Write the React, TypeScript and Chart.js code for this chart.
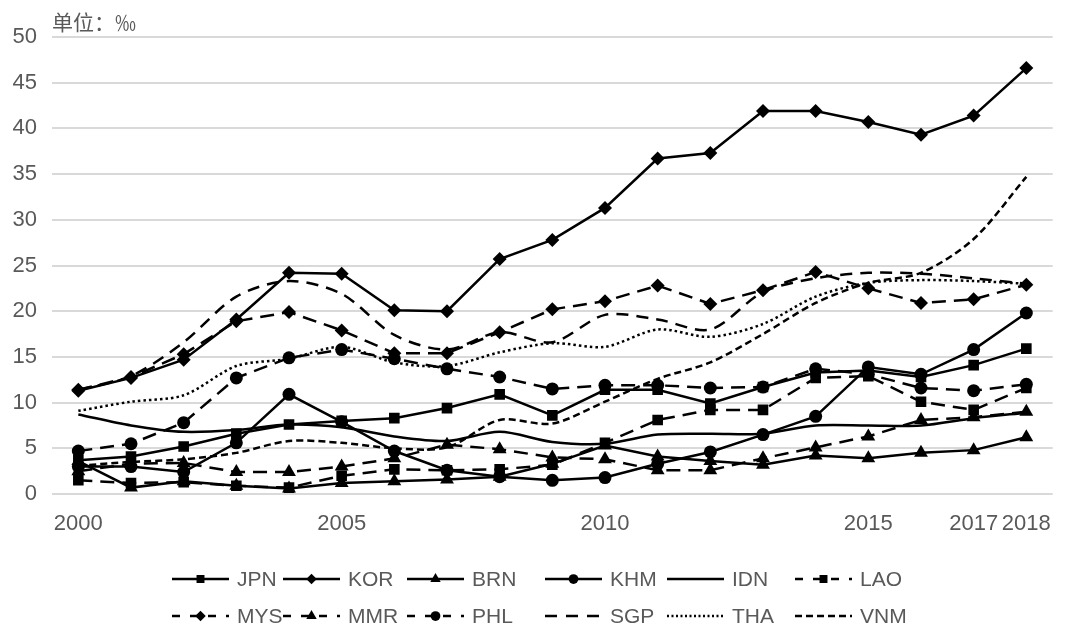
import React, { useEffect, useRef } from "react";
import { Chart, registerables } from "chart.js";

Chart.register(...registerables);

const years = ["2000","2001","2002","2003","2004","2005","2006","2007","2008","2009","2010","2011","2012","2013","2014","2015","2016","2017","2018"];
const shownYears = ["2000","2005","2010","2015","2017","2018"];
const unitLabel = "单位：‰";

const JPN = [3.7, 4.1, 5.2, 6.6, 7.6, 8.0, 8.3, 9.4, 10.9, 8.6, 11.4, 11.4, 9.9, 11.7, 13.3, 13.5, 12.8, 14.1, 15.9];
const KOR = [11.3, 12.7, 14.7, 19.1, 24.2, 24.1, 20.1, 20.0, 25.7, 27.8, 31.3, 36.7, 37.3, 41.9, 41.9, 40.7, 39.3, 41.4, 46.6];
const BRN = [3.6, 0.7, 1.4, 0.9, 0.6, 1.2, 1.4, 1.6, 1.9, 3.3, 5.3, 4.1, 3.6, 3.2, 4.2, 3.9, 4.5, 4.8, 6.2];
const KHM = [3.0, 3.0, 2.4, 5.6, 10.9, 7.9, 4.7, 2.6, 1.9, 1.5, 1.8, 3.3, 4.6, 6.5, 8.5, 13.9, 13.1, 15.8, 19.8];
const IDN = [8.7, 7.5, 6.8, 7.0, 7.6, 7.3, 6.3, 5.8, 6.8, 5.7, 5.5, 6.5, 6.6, 6.6, 7.5, 7.5, 7.5, 8.3, 8.9];
const LAO = [1.5, 1.2, 1.3, 0.9, 0.7, 2.0, 2.7, 2.6, 2.7, 3.2, 5.6, 8.1, 9.2, 9.2, 12.7, 12.9, 10.1, 9.2, 11.6];
const MYS = [11.4, 12.8, 15.3, 18.9, 19.9, 17.9, 15.4, 15.4, 17.7, 20.2, 21.1, 22.8, 20.8, 22.3, 24.3, 22.5, 20.9, 21.3, 22.9];
const MMR = [2.5, 3.3, 3.4, 2.4, 2.4, 3.0, 3.9, 5.4, 4.9, 4.0, 3.8, 2.6, 2.6, 3.9, 5.1, 6.3, 8.1, 8.4, 9.0];
const PHL = [4.7, 5.5, 7.8, 12.7, 14.9, 15.8, 14.8, 13.7, 12.8, 11.5, 11.9, 11.9, 11.6, 11.7, 13.7, 13.1, 11.6, 11.3, 12.0];
const SGP = [11.4, 12.9, 16.6, 21.6, 23.3, 21.9, 17.4, 15.8, 17.7, 16.6, 19.6, 19.1, 18.0, 22.1, 23.6, 24.2, 24.1, 23.6, 23.0];
const THA = [9.1, 10.1, 10.8, 14.0, 14.8, 16.1, 14.4, 14.0, 15.5, 16.5, 16.1, 18.0, 17.2, 18.6, 21.6, 23.1, 23.4, 23.3, 23.0];
const VNM = [3.1, 3.5, 3.8, 4.5, 5.8, 5.6, 5.0, 5.1, 8.1, 7.7, 10.1, 12.6, 14.4, 17.5, 20.9, 23.1, 24.2, 27.9, 34.7];

const LONG_DASH = [14, 8];
const SHORT_DASH = [7, 4];
const DOTS = [2.5, 3];

type S = { label: string; data: number[]; dash: number[]; marker: string | null; r: number; smooth: boolean };

const series: S[] = [
  { label: "JPN", data: JPN, dash: [], marker: "rect", r: 7.5, smooth: false },
  { label: "KOR", data: KOR, dash: [], marker: "rectRot", r: 7, smooth: false },
  { label: "BRN", data: BRN, dash: [], marker: "triangle", r: 8, smooth: false },
  { label: "KHM", data: KHM, dash: [], marker: "circle", r: 6.5, smooth: false },
  { label: "IDN", data: IDN, dash: [], marker: null, r: 0, smooth: true },
  { label: "LAO", data: LAO, dash: LONG_DASH, marker: "rect", r: 7.5, smooth: false },
  { label: "MYS", data: MYS, dash: LONG_DASH, marker: "rectRot", r: 7, smooth: false },
  { label: "MMR", data: MMR, dash: LONG_DASH, marker: "triangle", r: 8, smooth: false },
  { label: "PHL", data: PHL, dash: LONG_DASH, marker: "circle", r: 6.5, smooth: false },
  { label: "SGP", data: SGP, dash: [12, 8], marker: null, r: 0, smooth: true },
  { label: "THA", data: THA, dash: DOTS, marker: null, r: 0, smooth: true },
  { label: "VNM", data: VNM, dash: SHORT_DASH, marker: null, r: 0, smooth: true },
];

const GRAY = "#595959";
const FONT = "'Liberation Sans', Arial, sans-serif";

function drawMarker(ctx: CanvasRenderingContext2D, style: string, x: number, y: number, r: number) {
  ctx.beginPath();
  if (style === "rect") {
    const s = Math.SQRT1_2 * r;
    ctx.rect(x - s, y - s, 2 * s, 2 * s);
  } else if (style === "rectRot") {
    ctx.moveTo(x, y - r);
    ctx.lineTo(x + r, y);
    ctx.lineTo(x, y + r);
    ctx.lineTo(x - r, y);
    ctx.closePath();
  } else if (style === "triangle") {
    let a = 0;
    ctx.moveTo(x + Math.sin(a) * r, y - Math.cos(a) * r);
    a += (2 * Math.PI) / 3;
    ctx.lineTo(x + Math.sin(a) * r, y - Math.cos(a) * r);
    a += (2 * Math.PI) / 3;
    ctx.lineTo(x + Math.sin(a) * r, y - Math.cos(a) * r);
    ctx.closePath();
  } else if (style === "circle") {
    ctx.arc(x, y, r, 0, Math.PI * 2);
  }
  ctx.fill();
}

const legendCols = [172, 283, 407, 545, 667, 795];
const legendRows = [579, 616];

const annotPlugin = {
  id: "annot",
  afterDraw(chart: any) {
    const ctx: CanvasRenderingContext2D = chart.ctx;
    ctx.save();
    ctx.fillStyle = GRAY;
    ctx.textBaseline = "middle";
    ctx.font = "21px 'Noto Sans CJK SC', sans-serif";
    ctx.fillText(unitLabel, chart.chartArea.left, 22);

    ctx.font = "21px " + FONT;
    series.forEach((s, i) => {
      const x0 = legendCols[i % 6];
      const y = legendRows[Math.floor(i / 6)];
      const len = 57;
      ctx.strokeStyle = "#000";
      ctx.lineWidth = 2.5;
      ctx.setLineDash(s.dash.length ? (s.dash === DOTS ? [2, 2.5] : s.dash === SHORT_DASH ? [7, 4] : s.marker ? [8, 10] : [12, 9]) : []);
      ctx.beginPath();
      ctx.moveTo(x0, y);
      ctx.lineTo(x0 + len, y);
      ctx.stroke();
      ctx.setLineDash([]);
      if (s.marker) {
        ctx.fillStyle = "#000";
        drawMarker(ctx, s.marker, x0 + len / 2, y, s.r * 0.75);
      }
      ctx.fillStyle = GRAY;
      ctx.fillText(s.label, x0 + 65, y + 1);
    });
    ctx.restore();
  },
};

export default function App() {
  const ref = useRef<HTMLCanvasElement | null>(null);

  useEffect(() => {
    if (!ref.current) return;
    const chart = new Chart(ref.current, {
      type: "line",
      data: {
        labels: years,
        datasets: series.map((s) => ({
          label: s.label,
          data: s.data,
          borderColor: "#000",
          backgroundColor: "#000",
          borderWidth: 2.5,
          borderDash: s.dash,
          pointStyle: (s.marker || "circle") as any,
          pointRadius: s.marker ? s.r : 0,
          pointHoverRadius: s.marker ? s.r : 0,
          pointBackgroundColor: "#000",
          pointBorderColor: "#000",
          pointBorderWidth: 0,
          tension: s.smooth ? 0.3 : 0,
          fill: false,
        })),
      },
      options: {
        animation: false,
        responsive: false,
        maintainAspectRatio: false,
        layout: { padding: { top: 37, right: 0, bottom: 0, left: 0 } },
        plugins: {
          legend: { display: false },
          tooltip: { enabled: false },
          title: { display: false },
        },
        scales: {
          x: {
            type: "category",
            offset: true,
            grid: { display: false, drawTicks: false, tickLength: 0 },
            border: { display: false },
            ticks: {
              autoSkip: false,
              maxRotation: 0,
              minRotation: 0,
              padding: 17,
              color: GRAY,
              font: { family: FONT, size: 22 },
              callback: (_v: any, i: number) => (shownYears.includes(years[i]) ? years[i] : ""),
            },
            afterFit: (s: any) => {
              s.height = 132;
            },
          },
          y: {
            min: 0,
            max: 50,
            grid: { color: "#d9d9d9", lineWidth: 2, drawTicks: false, tickLength: 0 },
            border: { display: false },
            ticks: {
              stepSize: 5,
              padding: 15,
              color: GRAY,
              font: { family: FONT, size: 22 },
            },
            afterFit: (s: any) => {
              s.width = 52;
            },
          },
        },
      },
      plugins: [annotPlugin],
    });
    return () => chart.destroy();
  }, []);

  return (
    <div style={{ position: "absolute", left: 0, top: 0, width: 1068, height: 626, background: "#fff" }}>
      <canvas ref={ref} width={1068} height={626} style={{ width: 1068, height: 626, display: "block" }} />
    </div>
  );
}
